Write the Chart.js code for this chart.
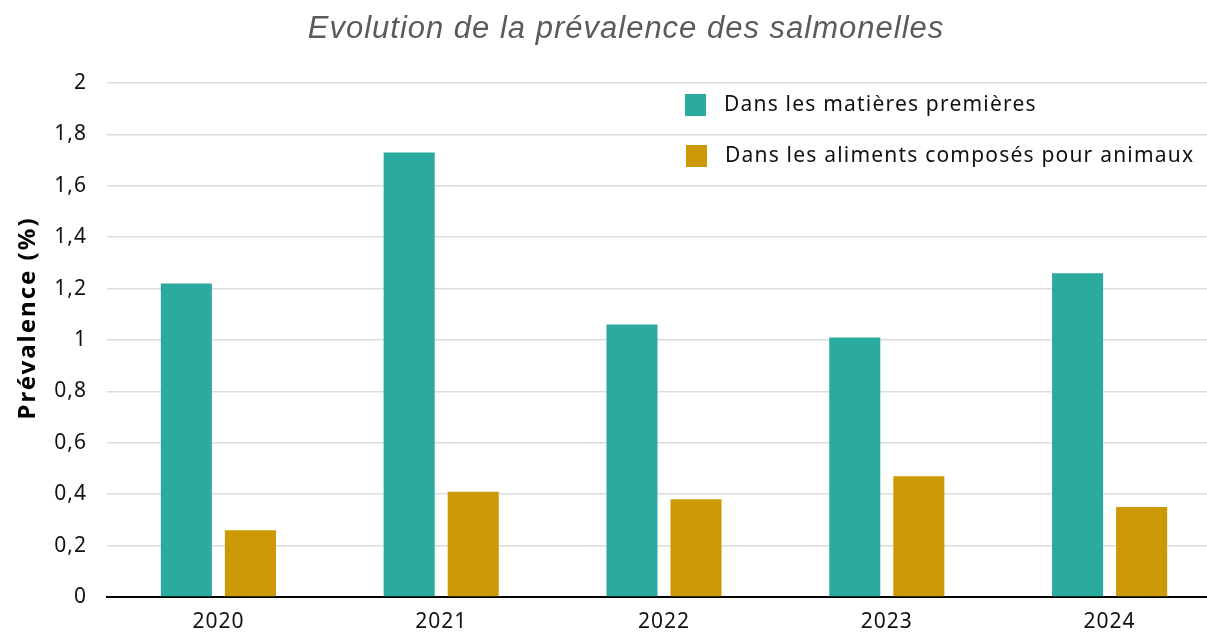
<!DOCTYPE html>
<html lang="fr">
<head>
<meta charset="utf-8">
<title>Evolution de la prévalence des salmonelles</title>
<script src="https://cdn.jsdelivr.net/npm/chart.js@4"></script>
<style>
    html, body { margin: 0; padding: 0; background: #fff; overflow: hidden; }
    .wrap { position: relative; width: 1207px; height: 632px; overflow: hidden; }
    .chart-title {
        position: absolute; left: 0; top: 10px; width: 1252px;
        text-align: center; margin: 0; line-height: 35px;
        font-family: "Liberation Sans", Arial, sans-serif;
        font-style: italic; font-weight: normal; font-size: 31px; color: #5b5b5b;
        letter-spacing: 1px;
    }
    canvas { position: absolute; left: 0; top: 0; }
</style>
</head>
<body>
<div class="wrap">
    <canvas id="chart" width="1223" height="632"></canvas>
    <h1 class="chart-title">Evolution de la prévalence des salmonelles</h1>
</div>
<script>
// Data
const years = ['2020', '2021', '2022', '2023', '2024'];
const matieresPremieres = [1.22, 1.73, 1.06, 1.01, 1.26];
const alimentsComposes = [0.26, 0.41, 0.38, 0.47, 0.35];
const seriesNames = ['Dans les matières premières', 'Dans les aliments composés pour animaux'];
const yTickLabels = ['0', '0,2', '0,4', '0,6', '0,8', '1', '1,2', '1,4', '1,6', '1,8', '2'];
const yAxisTitle = 'Prévalence (%)';

const FONT = '"Noto Sans", "Open Sans", sans-serif';

// the source uses a wide font, so space the letters a bit
const spacing = {
    id: 'spacing',
    beforeDraw(chart) { chart.ctx.letterSpacing = '1px'; }
};

// legend inside the plot (top right) and the y axis title
const extras = {
    id: 'extras',
    afterDraw(chart) {
        const ctx = chart.ctx;
        const rows = [
            { x: 685, y: 105 },
            { x: 686, y: 156 }
        ];
        ctx.save();
        ctx.letterSpacing = '1.2px';
        ctx.font = '21px ' + FONT;
        ctx.textBaseline = 'middle';
        chart.data.datasets.forEach((ds, i) => {
            const r = rows[i];
            ctx.fillStyle = ds.backgroundColor;
            ctx.fillRect(r.x, r.y - 11, 21, 22);
            ctx.fillStyle = '#111';
            ctx.fillText(ds.label, r.x + 39, r.y);
        });

        ctx.translate(28, 318);
        ctx.rotate(-Math.PI / 2);
        ctx.letterSpacing = '2px';
        ctx.font = 'bold 24px ' + FONT;
        ctx.textAlign = 'center';
        ctx.fillStyle = '#000';
        ctx.fillText(yAxisTitle, 0, 0);
        ctx.restore();
    }
};

new Chart(document.getElementById('chart'), {
    type: 'bar',
    data: {
        labels: years,
        datasets: [
            { label: seriesNames[0], data: matieresPremieres, backgroundColor: '#2baa9f' },
            { label: seriesNames[1], data: alimentsComposes, backgroundColor: '#cc9803' }
        ]
    },
    options: {
        responsive: false,
        animation: false,
        layout: { padding: { top: 83, right: 2, bottom: 0, left: 0 } },
        datasets: { bar: { categoryPercentage: 0.575, barPercentage: 0.797 } },
        plugins: {
            legend: { display: false },
            title: { display: false },
            tooltip: { enabled: false }
        },
        scales: {
            x: {
                afterFit(scale) { scale.height = 35; },
                grid: { display: false },
                border: { color: '#000', width: 2 },
                ticks: { color: '#111', font: { family: FONT, size: 21 }, padding: 4 }
            },
            y: {
                min: 0,
                max: 2,
                afterFit(scale) { scale.width = 107; },
                border: { display: false },
                grid: { color: '#dcdcdc', lineWidth: 1.5, drawTicks: false },
                ticks: {
                    stepSize: 0.2,
                    padding: 20,
                    color: '#111',
                    font: { family: FONT, size: 21 },
                    callback: (v, i) => yTickLabels[i]
                }
            }
        }
    },
    plugins: [spacing, extras]
});
</script>
</body>
</html>
